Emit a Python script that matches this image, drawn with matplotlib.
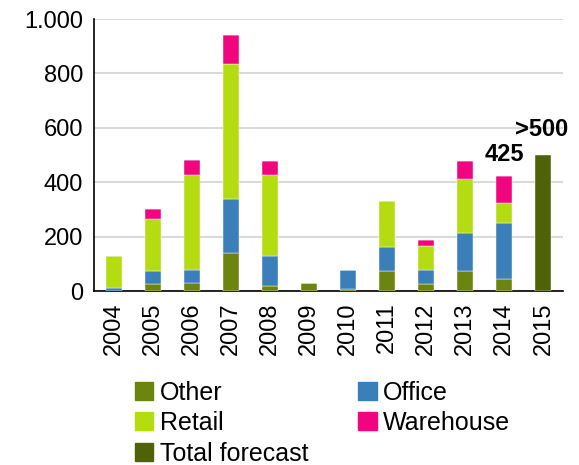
import numpy as np
import matplotlib.pyplot as plt
from matplotlib.patches import Patch

plt.rcParams['font.family'] = ['Liberation Sans', 'DejaVu Sans']

FONT_SIZE = 17

years = ['2004', '2005', '2006', '2007', '2008', '2009',
         '2010', '2011', '2012', '2013', '2014', '2015']
other = [0, 25, 30, 138, 20, 30, 8, 75, 24, 73, 44, 0]
office = [10, 50, 47, 199, 107, 0, 70, 88, 54, 141, 207, 0]
retail = [120, 190, 348, 496, 301, 0, 0, 168, 87, 199, 71, 0]
warehouse = [0, 35, 58, 109, 49, 0, 0, 0, 23, 64, 99, 0]
forecast = [0, 0, 0, 0, 0, 0, 0, 0, 0, 0, 0, 500]

colors = {
    'Other': '#6b8510',
    'Office': '#3a7fba',
    'Retail': '#b4dc10',
    'Warehouse': '#f0047f',
    'Total forecast': '#4f6208',
}

fig = plt.figure(figsize=(5.79, 4.65), dpi=100)
ax = fig.add_axes([94 / 579, 1 - 291 / 465, (563 - 94) / 579, 272 / 465])

x = np.arange(len(years))
width = 0.41
bottom = np.zeros(len(years))
for name, vals in [('Other', other), ('Office', office),
                   ('Retail', retail), ('Warehouse', warehouse),
                   ('Total forecast', forecast)]:
    vals = np.array(vals, dtype=float)
    ax.bar(x, vals, width, bottom=bottom, color=colors[name],
           edgecolor='white', linewidth=0.3, zorder=3)
    bottom += vals

# value labels above the last two bars
ax.text(10, 425 + 33, '425', fontsize=FONT_SIZE, fontweight='bold',
        ha='center', va='bottom')
ax.text(11 - 0.05, 500 + 50, '>500', fontsize=FONT_SIZE, fontweight='bold',
        ha='center', va='bottom')

ax.set_xlim(-0.5, 11.5)
ax.set_ylim(0, 1000)
ax.set_yticks([0, 200, 400, 600, 800, 1000])
ax.set_yticklabels(['0', '200', '400', '600', '800', '1.000'], fontsize=FONT_SIZE)
ax.set_xticks(x)
ax.set_xticklabels(years, rotation=90, fontsize=FONT_SIZE)
ax.tick_params(length=0, pad=8)
ax.yaxis.grid(True, color='#d9d9d9', linewidth=1.5, zorder=0)
ax.set_axisbelow(True)
for s in ['top', 'right']:
    ax.spines[s].set_visible(False)
for s in ['left', 'bottom']:
    ax.spines[s].set_linewidth(1.2)

labels = ['Other', 'Retail', 'Total forecast', 'Office', 'Warehouse']
handles = [Patch(color=colors[n]) for n in labels]
fig.legend(handles, labels, ncol=2, loc='upper left',
           bbox_to_anchor=(122 / 579, 1 - 368 / 465), frameon=False,
           fontsize=18, handlelength=0.75, handleheight=0.75,
           handletextpad=0.25, columnspacing=2.0, labelspacing=0.26,
           borderpad=0)

plt.savefig('out.png', dpi=100)
plt.close()
